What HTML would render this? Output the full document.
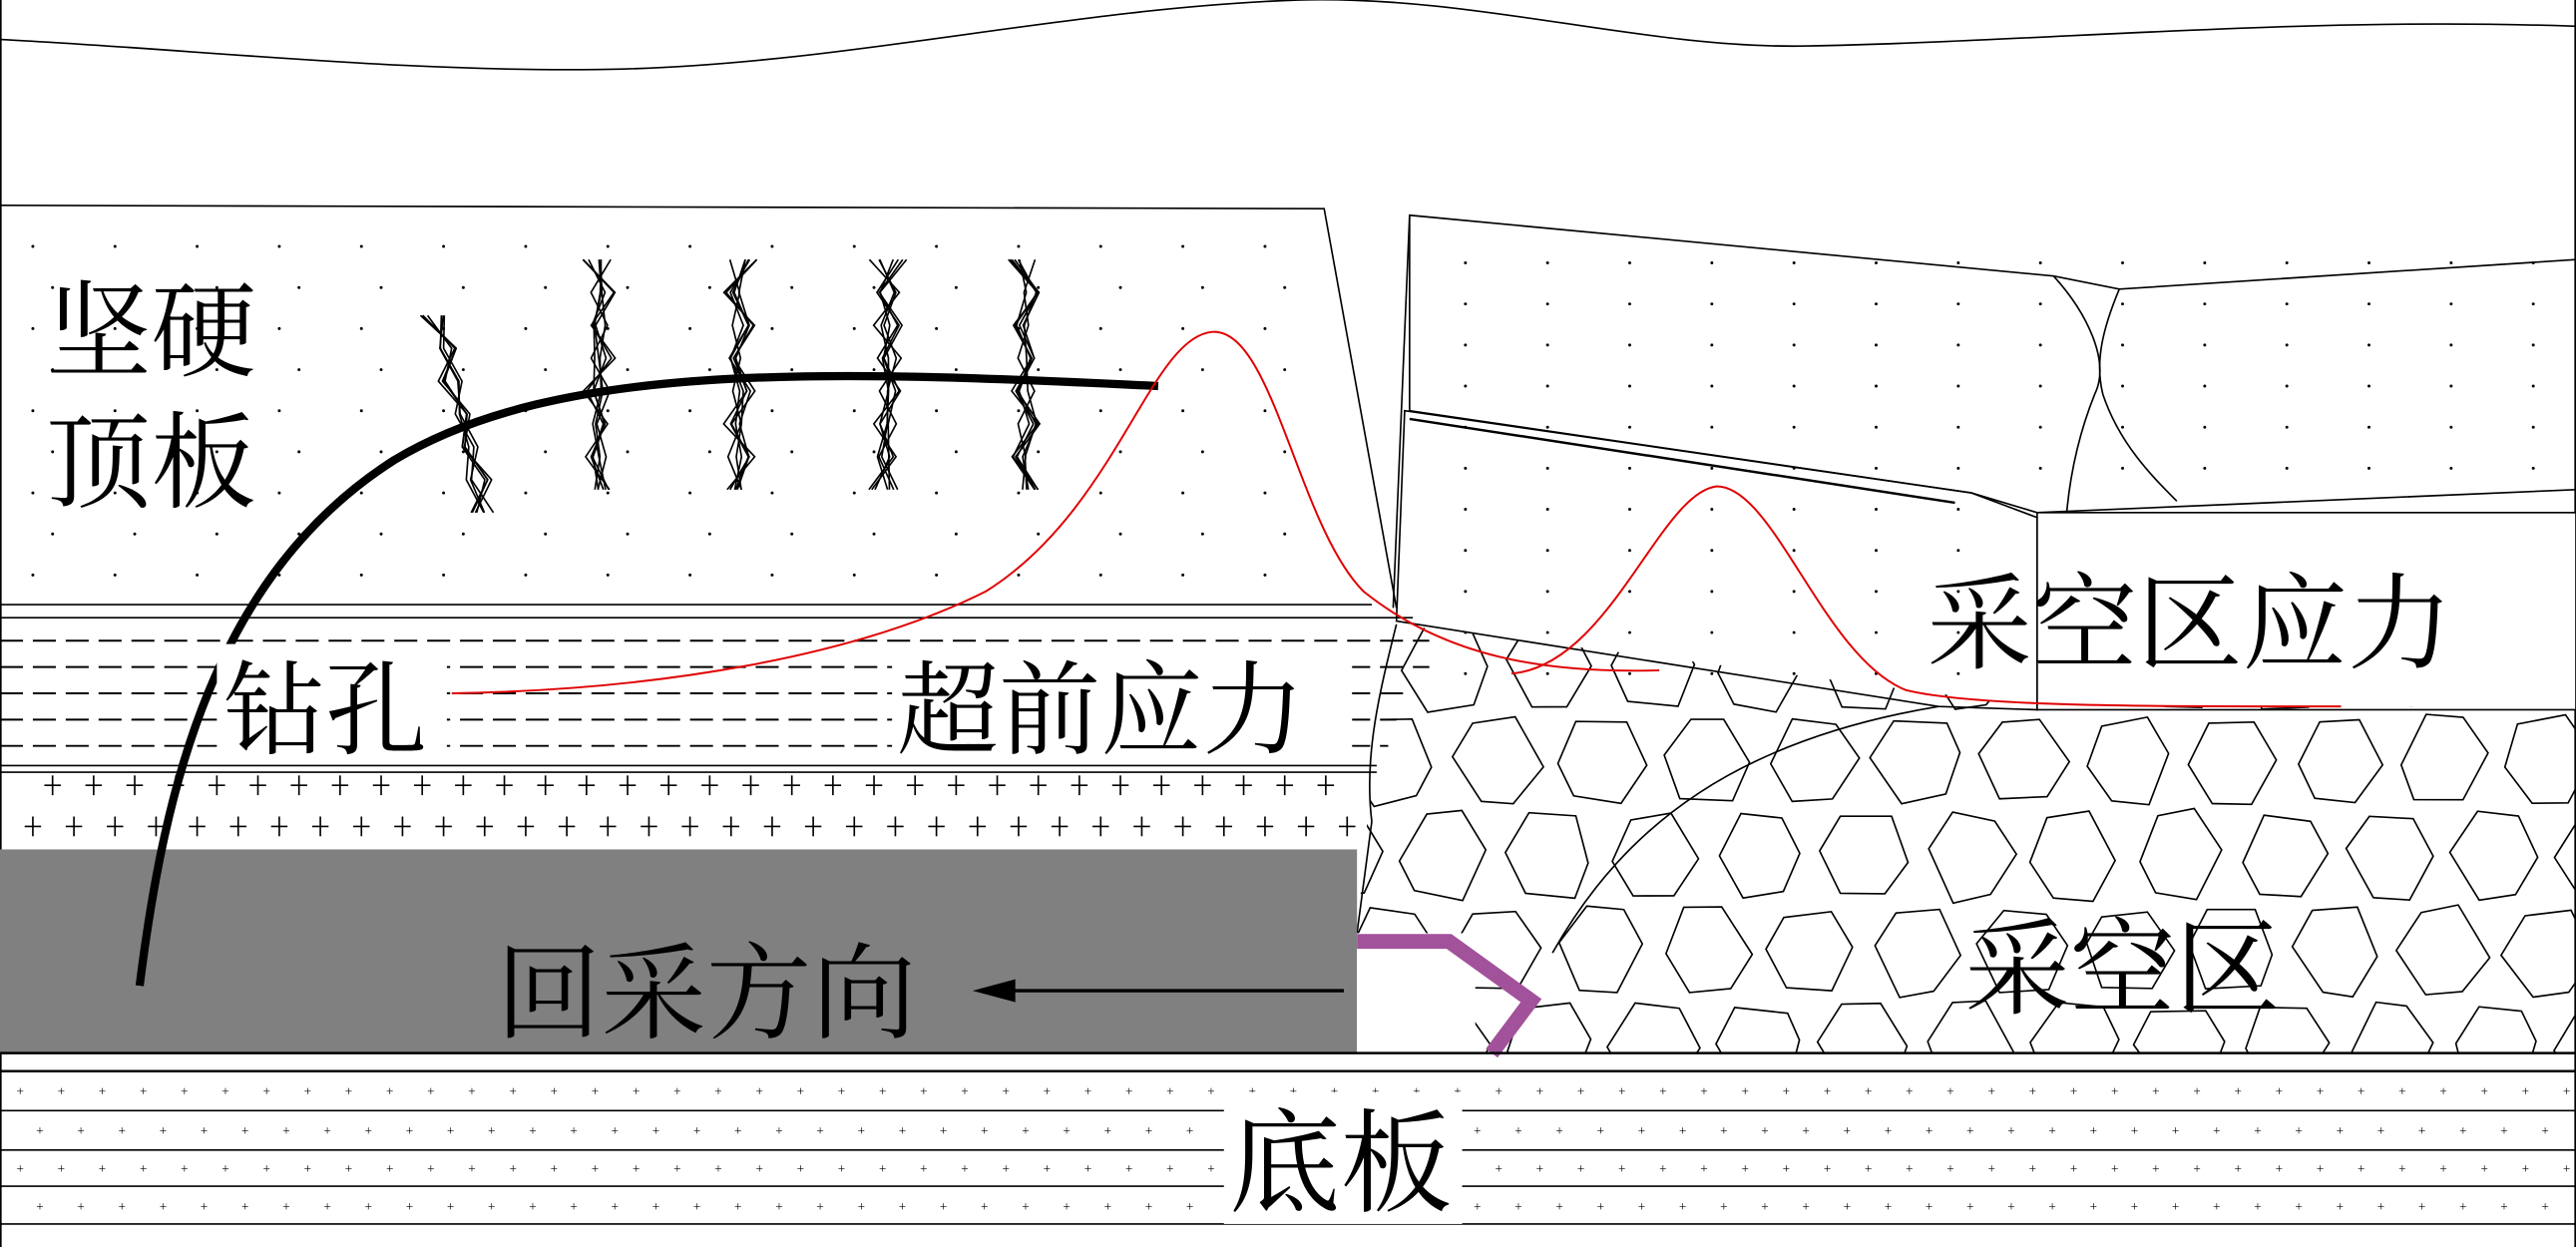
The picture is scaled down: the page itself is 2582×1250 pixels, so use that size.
<!DOCTYPE html>
<html><head><meta charset="utf-8"><style>
html,body{margin:0;padding:0;background:#fff;}
svg{display:block;}
text{font-family:"Liberation Serif","Noto Serif CJK SC",serif;fill:#000;}
</style></head><body>
<svg id="s" width="2582" height="1250" viewBox="0 0 1568 759" preserveAspectRatio="none" xmlns="http://www.w3.org/2000/svg">
<defs>
<clipPath id="goaf"><polygon points="850,380 1010,400 1240,430 1568,430 1568,641 830,641 826,568 835,470"/></clipPath>
</defs>
<rect width="1568" height="759" fill="#fff"/>
<path d="M0,24 C120,30 250,45 380,42 C520,38 650,5 790,0 C900,-3 1000,30 1100,28 C1250,25 1400,10 1568,16" fill="none" stroke="#000" stroke-width="1"/>
<line x1="0.5" y1="0" x2="0.5" y2="759" stroke="#000"/>
<line x1="1567.5" y1="0" x2="1567.5" y2="759" stroke="#000"/>
<polyline points="0,125 806,127 850,370" fill="none" stroke="#000"/>
<line x1="0" y1="368" x2="835" y2="368" stroke="#000"/>
<g id="dots1"></g>
<polygon points="858,131 1250,168 1290,176 1568,158 1568,298 1240,312 1200,300 858,250" fill="none" stroke="#000"/>
<path d="M1250,168 C1270,190 1285,220 1275,240 C1265,265 1260,290 1258,312" fill="none" stroke="#000"/>
<path d="M1290,176 C1280,200 1275,220 1280,240 C1290,270 1310,290 1325,305" fill="none" stroke="#000"/>
<polygon points="855,250 1200,300 1240,315 1240,432 1180,430 850,378" fill="none" stroke="#000"/>
<line x1="858" y1="255" x2="1190" y2="306" stroke="#000" stroke-width="1.5"/>
<rect x="1240" y="312" width="328" height="120" fill="#fff" stroke="#000"/>
<line x1="858" y1="131" x2="848" y2="370" stroke="#000"/>
<line x1="0" y1="376" x2="860" y2="376" stroke="#000"/>
<g stroke="#000" stroke-dasharray="14,6" stroke-width="1.2">
<line x1="0" y1="390" x2="870" y2="390"/>
<line x1="0" y1="406" x2="870" y2="406"/>
<line x1="0" y1="422" x2="860" y2="422"/>
<line x1="0" y1="438" x2="850" y2="438"/>
<line x1="0" y1="454" x2="845" y2="454"/>
</g>
<line x1="0" y1="466" x2="838" y2="466" stroke="#000"/>
<line x1="0" y1="470" x2="838" y2="470" stroke="#000"/>
<g id="plus"></g>
<g id="hex" clip-path="url(#goaf)" fill="none" stroke="#000" stroke-width="1"></g>
<path d="M850,380 C840,420 830,460 835,500 L826,568" fill="none" stroke="#000"/>
<path d="M945,580 C990,500 1060,450 1180,430" fill="none" stroke="#000"/>
<rect x="0" y="517" width="826" height="124" fill="#808080"/>
<rect x="826" y="568" width="72" height="73" fill="#fff"/>
<polyline points="826,573 882,573 932,609 908,641" fill="none" stroke="#a2519b" stroke-width="9" stroke-linejoin="miter"/>
<line x1="0" y1="641" x2="1568" y2="641" stroke="#000" stroke-width="1.5"/>
<line x1="0" y1="652" x2="1568" y2="652" stroke="#000" stroke-width="1.5"/>
<line x1="0" y1="676" x2="1568" y2="676" stroke="#000"/>
<line x1="0" y1="700" x2="1568" y2="700" stroke="#000"/>
<line x1="0" y1="722" x2="1568" y2="722" stroke="#000"/>
<line x1="0" y1="745" x2="1568" y2="745" stroke="#000"/>
<g id="dots2"></g>
<rect x="745" y="665" width="145" height="80" fill="#fff"/>
<g id="frac" stroke="#000" stroke-width="1" fill="none"></g>
<path d="M85,600 C100,480 130,350 240,280 C340,220 500,225 705,235" fill="none" stroke="#000" stroke-width="5"/>
<path d="M275,422 C400,420 520,400 600,360 C680,310 700,205 738,202 C775,200 790,320 830,360 C880,400 940,410 1010,408" fill="none" stroke="#e00000" stroke-width="1.2"/>
<path d="M920,410 C980,405 1010,300 1045,296 C1080,296 1110,400 1160,420 C1200,430 1300,430 1425,430" fill="none" stroke="#e00000" stroke-width="1.2"/>
<line x1="615" y1="603" x2="818" y2="603" stroke="#000" stroke-width="2"/>
<polygon points="592,603 618,596 618,610" fill="#000"/>
<text x="28" y="224" font-size="64">坚硬</text>
<text x="28" y="304" font-size="64">顶板</text>
<rect x="132" y="392" width="140" height="70" fill="#fff"/>
<text x="136" y="454" font-size="62">钻孔</text>
<rect x="543" y="392" width="280" height="70" fill="#fff"/>
<text x="546" y="454" font-size="62">超前应力</text>
<text x="1173" y="402" font-size="64">采空区应力</text>
<text x="1196" y="612" font-size="64">采空区</text>
<text x="302" y="627" font-size="64">回采方向</text>
<text x="748" y="732" font-size="68">底板</text>
<script>
var ns="http://www.w3.org/2000/svg";
function el(p,t,a){var e=document.createElementNS(ns,t);for(var k in a)e.setAttribute(k,a[k]);p.appendChild(e);return e;}
var seed=7;function r(){seed=(seed*9301+49297)%233280;return seed/233280;}
var d1=document.getElementById("dots1");
for(var y=150;y<365;y+=25)for(var x=20+(y%50?12:0);x<800;x+=50)el(d1,"circle",{cx:x,cy:y,r:0.9,fill:"#000"});
for(var y=160;y<430;y+=25)for(var x=880+(y%50?12:0);x<1560;x+=50){if(x>1240&&y>300)continue;el(d1,"circle",{cx:x,cy:y,r:0.9,fill:"#000"});}
var pl=document.getElementById("plus");
[478,503].forEach(function(y,i){for(var x=20+(i?0:12);x<830;x+=25){el(pl,"line",{x1:x-5,y1:y,x2:x+5,y2:y,stroke:"#000"});el(pl,"line",{x1:x,y1:y-6,x2:x,y2:y+6,stroke:"#000"});}});
var d2=document.getElementById("dots2");
[664,688,711,734].forEach(function(y,i){for(var x=10+(i%2?12:0);x<1568;x+=25)el(d2,"text",{x:x,y:y+3,"font-size":"8"}).textContent="+";});
var hx=document.getElementById("hex");
for(var row=0;row<6;row++){var cy=405+row*58;for(var col=0;col<13;col++){var cx=815+col*64+(row%2?32:0);
var pts=[];for(var k=0;k<6;k++){var a=Math.PI/3*k+(r()-0.5)*0.35;var rx=24+r()*5,ry=26+r()*5;pts.push((cx+rx*Math.cos(a)).toFixed(1)+","+(cy+ry*Math.sin(a)).toFixed(1));}
el(hx,"polygon",{points:pts.join(" ")});}}
var fr=document.getElementById("frac");
[[265,250],[365,235],[450,230],[540,230],[625,230]].forEach(function(p,i){var x=p[0],top=i==0?192:158,bot=i==0?320:300;
for(var j=0;j<7;j++){var off=(r()-0.5)*24;var d="M"+(x+off)+","+top;var n=0;for(var y=top+20;y<=bot;y+=20){n++;var w=(n%2?-1:1)*off*0.6;d+=" L"+(x+(i==0?(y-top)*0.25:0)+w+(r()-0.5)*8)+","+y;}el(fr,"path",{d:d});}});
</script>
</svg>
</body></html>
